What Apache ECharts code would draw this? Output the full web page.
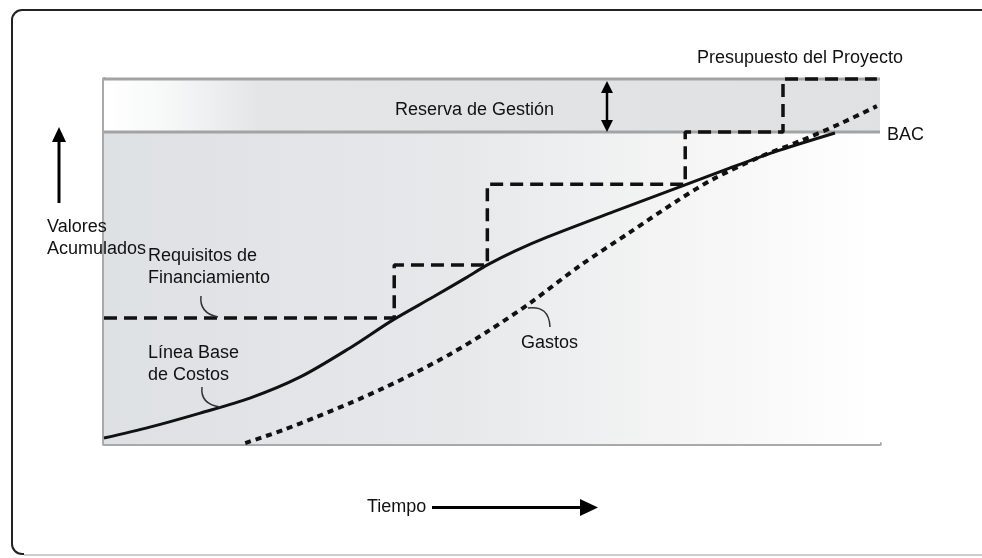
<!DOCTYPE html>
<html>
<head>
<meta charset="utf-8">
<script src="https://cdn.jsdelivr.net/npm/echarts@6/dist/echarts.min.js"></script>
<style>
  html, body { margin: 0; padding: 0; background: #fff; }
  #main { width: 982px; height: 558px; }
</style>
</head>
<body>
<div id="main"></div>
<script>
// time (0-100) vs cumulative value (BAC = 100)
var bac = 100;
var projectBudget = 117;

// Línea Base de Costos (solid S-curve)
var baseline = [
  [0, 1.9], [5.9, 5.4], [12.4, 9.9], [18.8, 14.7], [25.3, 21.5], [31.7, 30.8],
  [37.2, 39.7], [42.4, 47.1], [46.8, 53.5], [49.4, 57.4], [53.0, 61.9],
  [57.1, 66.3], [65.6, 74.4], [74.2, 82.4], [80.7, 88.5], [87.1, 94.2], [94.2, 99.7]
];

// Gastos (dotted)
var spending = [
  [18.2, 0.3], [23.1, 4.5], [27.4, 8.7], [31.7, 13.1], [36.0, 17.9], [40.3, 23.1],
  [44.6, 28.8], [49.7, 36.5], [54.9, 45.2], [61.3, 57.1], [67.8, 67.9],
  [74.2, 78.5], [78.5, 84.9], [84.5, 92.0], [89.7, 97.1], [94.8, 102.6], [99.6, 108.3]
];

// Requisitos de Financiamiento (dashed steps)
var funding = [
  [0, 40.4], [37.4, 57.4], [49.4, 83.3], [74.9, 100], [87.5, 117], [99.6, 117]
];

var FONT = '18px "Liberation Sans", Arial, sans-serif';

function label(txt, x, y) {
  return {
    type: 'text', x: x, y: y, z: 20,
    style: { text: txt, font: FONT, fill: '#111', verticalAlign: 'middle', textVerticalAlign: 'middle' }
  };
}
function leader(x1, y1, cx, cy, x2, y2) {
  return {
    type: 'bezierCurve', z: 20,
    shape: { x1: x1, y1: y1, cpx1: cx, cpy1: cy, x2: x2, y2: y2 },
    style: { stroke: '#333', lineWidth: 1.5, fill: null }
  };
}

var chart = echarts.init(document.getElementById('main'), null, { renderer: 'canvas' });

chart.setOption({
  animation: false,
  backgroundColor: '#fff',
  grid: { left: 104, right: 102, top: 79, bottom: 114 },
  xAxis: {
    type: 'value', min: 0, max: 100,
    axisLine: { show: true, lineStyle: { color: '#a9a9a9', width: 4 } },
    axisTick: { show: false }, axisLabel: { show: false }, splitLine: { show: false }
  },
  yAxis: {
    type: 'value', min: 0, max: 117,
    axisLine: { show: true, lineStyle: { color: '#a9a9a9', width: 4 } },
    axisTick: { show: false }, axisLabel: { show: false }, splitLine: { show: false }
  },
  series: [
    {
      // background shading
      type: 'line', z: 1, data: [[0, 0]], showSymbol: false, silent: true,
      lineStyle: { opacity: 0 },
      markArea: {
        silent: true,
        data: [
          [{ coord: [0, 0], itemStyle: {
              color: new echarts.graphic.LinearGradient(0, 0, 1, 0, [
                { offset: 0, color: '#dee1e4' },
                { offset: 0.45, color: '#e6e8ea' },
                { offset: 0.75, color: '#f5f5f5' },
                { offset: 1, color: '#ffffff' }
              ]) } },
           { coord: [100, bac] }],
          [{ coord: [0, bac], itemStyle: {
              color: new echarts.graphic.LinearGradient(0, 0, 1, 0, [
                { offset: 0, color: '#ffffff' },
                { offset: 0.08, color: '#f7f8f8' },
                { offset: 0.2, color: '#e3e5e7' },
                { offset: 1, color: '#dfe1e3' }
              ]) } },
           { coord: [100, projectBudget] }]
        ]
      }
    },
    {
      type: 'line', z: 2, data: [[0, bac], [100, bac]], showSymbol: false, silent: true, clip: false,
      lineStyle: { color: '#a3a3a3', width: 3 }
    },
    {
      type: 'line', z: 2, data: [[0, projectBudget], [100, projectBudget]], showSymbol: false, silent: true, clip: false,
      lineStyle: { color: '#a3a3a3', width: 3 }
    },
    {
      name: 'Requisitos de Financiamiento', type: 'line', z: 3, clip: false,
      data: funding, step: 'end', showSymbol: false,
      lineStyle: { color: '#111', width: 3.5, type: [13, 7], cap: 'butt' }
    },
    {
      name: 'Gastos', type: 'line', z: 4,
      data: spending, smooth: 0.3, showSymbol: false,
      lineStyle: { color: '#111', width: 4, type: [6, 5], cap: 'butt' }
    },
    {
      name: 'Línea Base de Costos', type: 'line', z: 5,
      data: baseline, smooth: 0.3, showSymbol: false,
      lineStyle: { color: '#111', width: 3 }
    }
  ],
  graphic: [
    // outer frame
    { type: 'rect', z: 0, shape: { x: 12, y: 10, width: 1000, height: 544, r: 10 },
      style: { fill: null, stroke: '#222', lineWidth: 2 } },
    { type: 'line', z: 0, shape: { x1: 24, y1: 554, x2: 982, y2: 554 },
      style: { stroke: '#fff', lineWidth: 3 } },
    { type: 'line', z: 0, shape: { x1: 24, y1: 555, x2: 982, y2: 555 },
      style: { stroke: '#bbb', lineWidth: 1.5 } },

    label('Presupuesto del Proyecto', 697, 58),
    label('Reserva de Gestión', 395, 110),
    label('BAC', 887, 135),
    label('Valores', 47, 227),
    label('Acumulados', 47, 249),
    label('Requisitos de', 148, 256),
    label('Financiamiento', 148, 278),
    label('Línea Base', 148, 353),
    label('de Costos', 148, 375),
    label('Gastos', 521, 343),
    label('Tiempo', 367, 507),

    leader(201, 296, 199, 313, 218, 317),
    leader(202, 387, 200, 404, 220, 407),
    leader(528, 308, 549, 305, 550, 327),

    // vertical "Valores" arrow
    { type: 'line', z: 20, shape: { x1: 59, y1: 203, x2: 59, y2: 138 }, style: { stroke: '#000', lineWidth: 3 } },
    { type: 'polygon', z: 20, shape: { points: [[52, 142], [66, 142], [59, 127]] }, style: { fill: '#000' } },

    // "Tiempo" arrow
    { type: 'line', z: 20, shape: { x1: 432, y1: 507.5, x2: 584, y2: 507.5 }, style: { stroke: '#000', lineWidth: 3 } },
    { type: 'polygon', z: 20, shape: { points: [[580, 499], [580, 516], [598, 507.5]] }, style: { fill: '#000' } },

    // management reserve double arrow
    { type: 'line', z: 20, shape: { x1: 607, y1: 88, x2: 607, y2: 126 }, style: { stroke: '#000', lineWidth: 2.5 } },
    { type: 'polygon', z: 20, shape: { points: [[601, 93], [613, 93], [607, 81]] }, style: { fill: '#000' } },
    { type: 'polygon', z: 20, shape: { points: [[601, 120], [613, 120], [607, 132]] }, style: { fill: '#000' } }
  ]
});
</script>
</body>
</html>
